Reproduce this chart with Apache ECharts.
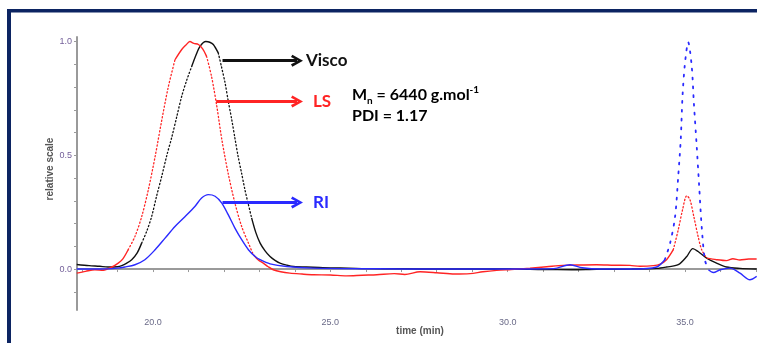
<!DOCTYPE html>
<html>
<head>
<meta charset="utf-8">
<script src="https://cdn.jsdelivr.net/npm/echarts@6/dist/echarts.min.js"></script>
<style>
  html, body { margin: 0; padding: 0; background: #fff; }
  #chart { width: 757px; height: 343px; }
</style>
</head>
<body>
<div id="chart"></div>
<script>
// SEC chromatogram: normalised responses of the three detectors vs elution time (min)
const viscoTime = [17.85, 18.2, 18.5, 18.73, 19.0, 19.12, 19.25, 19.40, 19.55, 19.68, 19.82, 19.96, 20.10, 20.25, 20.39, 20.53, 20.67, 20.81, 20.95, 21.09, 21.21, 21.33, 21.49, 21.60, 21.70, 21.84, 21.93, 22.03, 22.12, 22.22, 22.31, 22.40, 22.50, 22.59, 22.68, 22.78, 22.90, 23.02, 23.16, 23.30, 23.44, 23.58, 23.77, 23.96, 24.51, 25.0, 25.5, 26.0, 27.0, 28.0, 29.0, 30.0, 31.0, 31.8, 32.5, 33.5, 34.2, 34.48, 34.81, 35.05, 35.22, 35.37, 35.61, 35.89, 36.17, 36.55, 37.02];
const viscoSignal = [0.020, 0.015, 0.012, 0.009, 0.010, 0.015, 0.025, 0.041, 0.070, 0.114, 0.165, 0.230, 0.320, 0.410, 0.500, 0.580, 0.670, 0.760, 0.830, 0.890, 0.940, 0.980, 1.000, 0.997, 0.987, 0.950, 0.890, 0.820, 0.740, 0.657, 0.575, 0.495, 0.420, 0.350, 0.290, 0.225, 0.160, 0.114, 0.080, 0.055, 0.038, 0.026, 0.017, 0.011, 0.008, 0.005, 0.004, 0.002, 0.001, 0.000, 0.000, 0.000, -0.002, -0.003, -0.001, 0.000, 0.003, 0.009, 0.019, 0.055, 0.090, 0.077, 0.048, 0.026, 0.009, 0.003, 0.000];

const lsTime = [17.85, 18.1, 18.36, 18.6, 18.84, 19.02, 19.15, 19.30, 19.49, 19.68, 19.87, 20.06, 20.25, 20.43, 20.62, 20.81, 20.93, 21.04, 21.15, 21.28, 21.40, 21.51, 21.65, 21.80, 21.94, 22.12, 22.31, 22.50, 22.69, 22.83, 22.97, 23.11, 23.25, 23.39, 23.60, 23.86, 24.2, 24.52, 25.0, 25.46, 25.9, 26.31, 26.8, 27.1, 27.53, 28.0, 28.5, 28.94, 29.3, 29.69, 30.1, 30.63, 31.1, 31.56, 32.0, 32.51, 33.0, 33.45, 33.73, 34.11, 34.30, 34.48, 34.67, 34.81, 34.93, 35.05, 35.14, 35.25, 35.37, 35.47, 35.61, 35.89, 36.17, 36.35, 36.55, 36.8, 37.02];
const lsSignal = [-0.018, -0.010, -0.003, -0.005, 0.009, 0.026, 0.045, 0.085, 0.143, 0.230, 0.350, 0.495, 0.657, 0.800, 0.920, 0.965, 0.985, 1.000, 0.992, 0.987, 0.968, 0.935, 0.847, 0.715, 0.570, 0.420, 0.290, 0.187, 0.114, 0.063, 0.040, 0.026, 0.010, -0.003, -0.012, -0.018, -0.022, -0.025, -0.026, -0.030, -0.027, -0.025, -0.020, -0.024, -0.012, -0.016, -0.022, -0.020, -0.012, -0.006, -0.002, 0.004, 0.010, 0.016, 0.018, 0.019, 0.017, 0.016, 0.012, 0.015, 0.022, 0.041, 0.085, 0.173, 0.260, 0.322, 0.305, 0.230, 0.143, 0.085, 0.048, 0.041, 0.037, 0.045, 0.040, 0.044, 0.044];

const riTime = [17.85, 18.5, 19.0, 19.21, 19.49, 19.77, 20.06, 20.34, 20.62, 20.90, 21.18, 21.37, 21.56, 21.75, 21.94, 22.12, 22.31, 22.50, 22.69, 22.88, 23.02, 23.30, 23.77, 24.52, 26.31, 28.0, 30.0, 31.3, 31.76, 32.1, 32.6, 33.5, 34.20, 34.43, 34.58, 34.72, 34.81, 34.88, 34.93, 35.00, 35.09, 35.19, 35.25, 35.33, 35.40, 35.47, 35.56, 35.66, 35.80, 35.99, 36.27, 36.55, 36.83, 37.02];
const riSignal = [0.000, 0.000, 0.004, 0.009, 0.019, 0.041, 0.085, 0.136, 0.187, 0.230, 0.275, 0.312, 0.327, 0.320, 0.290, 0.239, 0.180, 0.129, 0.085, 0.055, 0.041, 0.023, 0.011, 0.004, 0.001, 0.000, 0.000, 0.002, 0.019, 0.006, 0.000, 0.000, 0.009, 0.041, 0.114, 0.230, 0.410, 0.570, 0.760, 0.906, 0.997, 0.890, 0.730, 0.540, 0.363, 0.187, 0.041, -0.003, -0.015, -0.003, 0.004, -0.018, -0.047, -0.032];

// axis ticks and labels
const xTickValues = [18, 19, 20, 21, 22, 23, 24, 25, 26, 27, 28, 29, 30, 31, 32, 33, 34, 35, 36, 37];
const xLabelValues = [20, 25, 30, 35];
const yTickValues = [-0.1, 0, 0.1, 0.2, 0.3, 0.4, 0.5, 0.6, 0.7, 0.8, 0.9, 1.0];
const yLabelValues = [0, 0.5, 1.0];

// detector call-outs: arrow start, arrow end (min) and height (relative scale)
const callouts = [
  { name: 'Visco', from: 21.96, to: 24.06, level: 0.916 },
  { name: 'LS', from: 21.78, to: 24.06, level: 0.737 },
  { name: 'RI', from: 21.96, to: 24.06, level: 0.293 }
];
// sample result block anchor (min, relative scale)
const resultAnchor = { time: 25.61, level: 0.811, mn: '6440', pdi: '1.17' };

// stretches where the sparse sampling makes the trace look dotted
const viscoSparse = [[19.8, 20.95], [21.9, 22.75]];
const lsSparse = [[19.45, 20.5], [21.55, 22.75], [34.7, 35.5]];
const riSparse = [[34.5, 35.62]];

const FONT = 'Lato, "Open Sans", sans-serif';
const BLACK = '#111111', RED = '#ff2424', BLUE = '#2a2aff';

function inRanges(t, ranges) {
  return ranges.some(r => t >= r[0] && t <= r[1]);
}

// split a trace into continuous and sparse parts sharing their joint points
function splitTrace(times, values, ranges) {
  const solid = [], sparse = [];
  for (let i = 0; i < times.length; i++) {
    const inside = inRanges(times[i], ranges);
    const prevIn = i > 0 && inRanges(times[i - 1], ranges);
    const nextIn = i < times.length - 1 && inRanges(times[i + 1], ranges);
    solid.push([times[i], inside ? '-' : values[i]]);
    sparse.push([times[i], (inside || prevIn || nextIn) ? values[i] : '-']);
  }
  return { solid, sparse };
}

// open chevron head, drawn pointing along the line
const chevron = 'path://M0,11 L6,0 L12,11 L9.6,12.4 L6,5.2 L2.4,12.4 Z';

function calloutMark(c, color, dist) {
  return {
    silent: true,
    animation: false,
    symbol: 'none',
    lineStyle: { type: 'solid', width: 3, color: color },
    label: {
      show: true, position: 'end', distance: dist, formatter: c.name,
      color: color, fontFamily: FONT, fontWeight: 'bold', fontSize: 17
    },
    data: [[
      { coord: [c.from, c.level], symbol: 'none' },
      { coord: [c.to, c.level], symbol: chevron, symbolSize: 12, itemStyle: { color: color } }
    ]]
  };
}

function traceSeries(name, times, values, ranges, color, dash, dashWidth, callout, dist) {
  const parts = splitTrace(times, values, ranges);
  return [
    {
      name: name, type: 'line', data: parts.solid, showSymbol: false, smooth: 0.3,
      connectNulls: false, animation: false, silent: true,
      itemStyle: { color: color },
      lineStyle: { color: color, width: 1.4 },
      markLine: calloutMark(callout, color, dist)
    },
    {
      name: name + ' sparse', type: 'line', data: parts.sparse, showSymbol: false, smooth: 0.3,
      connectNulls: false, animation: false, silent: true,
      itemStyle: { color: color },
      lineStyle: { color: color, width: dashWidth, type: dash, cap: 'round' }
    }
  ];
}

const chart = echarts.init(document.getElementById('chart'), null, { renderer: 'canvas' });

const axisNameStyle = { color: '#555', fontSize: 10, fontWeight: 'bold', fontFamily: 'Liberation Sans' };

chart.setOption({
  backgroundColor: '#ffffff',
  animation: false,
  grid: { left: 77, right: 0, top: 37, bottom: 33, containLabel: false, outerBoundsMode: 'none' },
  xAxis: {
    type: 'value', min: 17.857, max: 37.03,
    name: 'time (min)', nameLocation: 'middle', nameGap: 16, nameMoveOverlap: false,
    nameTextStyle: Object.assign({}, axisNameStyle, { padding: [0, 0, 0, 6] }),
    axisLine: { show: true, lineStyle: { color: '#9a9a9a', width: 2 } },
    axisTick: { show: true, length: 3, customValues: xTickValues, lineStyle: { color: '#9a9a9a', width: 1 } },
    axisLabel: {
      customValues: xLabelValues, margin: 8, color: '#6a6a88', fontSize: 9,
      fontFamily: 'Liberation Sans', formatter: v => v.toFixed(1)
    },
    splitLine: { show: false }
  },
  yAxis: {
    type: 'value', min: -0.18, max: 1.02,
    name: 'relative scale', nameLocation: 'middle', nameGap: 22, nameRotate: 90, nameMoveOverlap: false,
    nameTextStyle: Object.assign({}, axisNameStyle, { padding: [0, 0, 0, 9] }),
    axisLine: { show: true, lineStyle: { color: '#9a9a9a', width: 2 } },
    axisTick: { show: true, length: 3, customValues: yTickValues, lineStyle: { color: '#9a9a9a', width: 1 } },
    axisLabel: {
      customValues: yLabelValues, margin: 5, color: '#74609a', fontSize: 9,
      fontFamily: 'Liberation Sans', formatter: v => v.toFixed(1)
    },
    splitLine: { show: false }
  },
  series: [
    ...traceSeries('Visco', viscoTime, viscoSignal, viscoSparse, BLACK, [1.2, 2.4], 1.3, callouts[0], 9),
    ...traceSeries('LS', lsTime, lsSignal, lsSparse, RED, [1.2, 2.4], 1.3, callouts[1], 16),
    ...traceSeries('RI', riTime, riSignal, riSparse, BLUE, [1.8, 7], 1.8, callouts[2], 16)
  ]
});

// frame and sample result block (placed in data space)
const anchor = chart.convertToPixel({ gridIndex: 0 }, [resultAnchor.time, resultAnchor.level]);
const rich = {
  b: { fontSize: 16, fontWeight: 'bold', fontFamily: FONT, color: '#111', lineHeight: 21 },
  s: { fontSize: 10, fontWeight: 'bold', fontFamily: FONT, color: '#111', lineHeight: 10, verticalAlign: 'bottom' },
  p: { fontSize: 10, fontWeight: 'bold', fontFamily: FONT, color: '#111', lineHeight: 10, verticalAlign: 'top' }
};
chart.setOption({
  graphic: [
    { type: 'rect', shape: { x: 7, y: 9, width: 750, height: 3.5 }, style: { fill: '#0c2462' }, silent: true },
    { type: 'rect', shape: { x: 7, y: 9, width: 4, height: 334 }, style: { fill: '#0c2462' }, silent: true },
    {
      type: 'text', x: anchor[0], y: anchor[1], silent: true,
      style: {
        text: '{b|M}{s|n}{b| = ' + resultAnchor.mn + ' g.mol}{p|-1}\n{b|PDI = ' + resultAnchor.pdi + '}',
        rich: rich, textAlign: 'left', textVerticalAlign: 'top'
      }
    }
  ]
});
</script>
</body>
</html>
